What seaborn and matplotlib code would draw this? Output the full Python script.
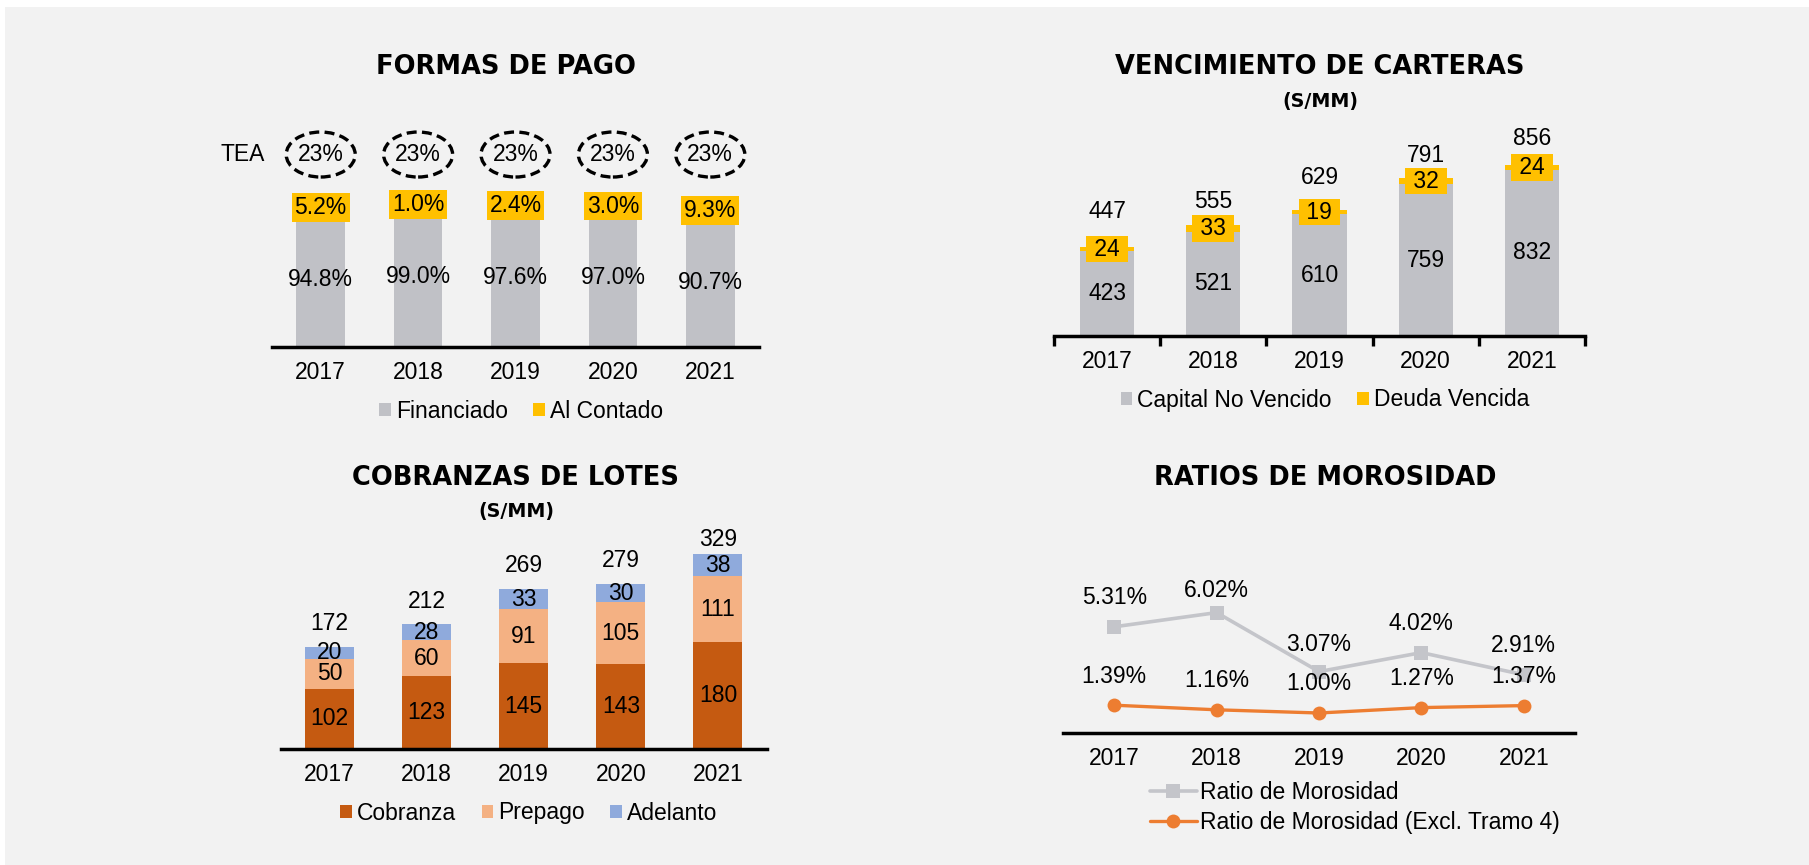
import numpy as np
import matplotlib
matplotlib.use('Agg')
import matplotlib.pyplot as plt
import matplotlib.patches as mpatches
import matplotlib.transforms as mtransforms
import seaborn as sns

sns.set_theme(style='white')
plt.rcParams['font.family'] = ['Liberation Sans', 'DejaVu Sans']
plt.rcParams['text.color'] = 'black'

years = ['2017', '2018', '2019', '2020', '2021']

# Formas de pago (%)
financiado = [94.8, 99.0, 97.6, 97.0, 90.7]
contado = [5.2, 1.0, 2.4, 3.0, 9.3]
tea = [23, 23, 23, 23, 23]

# Vencimiento de carteras (S/MM)
capital_no_vencido = [423, 521, 610, 759, 832]
deuda_vencida = [24, 33, 19, 32, 24]
total_cartera = [447, 555, 629, 791, 856]

# Cobranzas de lotes (S/MM)
cobranza = [102, 123, 145, 143, 180]
prepago = [50, 60, 91, 105, 111]
adelanto = [20, 28, 33, 30, 38]
total_cobranzas = [172, 212, 269, 279, 329]

# Ratios de morosidad (%)
ratio_mora = [5.31, 6.02, 3.07, 4.02, 2.91]
ratio_mora_excl = [1.39, 1.16, 1.00, 1.27, 1.37]

# label offsets above the bar tops (pixels), as placed in the original
cartera_offsets = [35, 24, 33, 22, 26]
cobranza_offsets = [24, 22, 24, 23, 14]
mora_offsets = [29, 22, 27, 29, 29]

# colours
BG = '#f2f2f2'
GRAY = '#c0c1c6'
YELLOW = '#ffc000'
COBRANZA = '#c55a11'
PREPAGO = '#f4b183'
ADELANTO = '#8faadc'
LINE_GRAY = '#c4c5ca'
ORANGE = '#ed7d31'

FS = 16.5
TITLE_FONT = ['DejaVu Sans']

W, H = 1809, 865
fig = plt.figure(figsize=(W / 100, H / 100), dpi=100)
fig.patch.set_facecolor('white')
fig.add_artist(mpatches.Rectangle((5 / W, 0), 1, (H - 7) / H, transform=fig.transFigure,
                                  facecolor=BG, edgecolor='none', zorder=-10))


def px_axes(left, right, bottom, top):
    ax = fig.add_axes([left / W, 1 - bottom / H, (right - left) / W, (bottom - top) / H])
    ax.set_facecolor('none')
    return ax


def style_axis(ax):
    for s in ['top', 'left', 'right']:
        ax.spines[s].set_visible(False)
    ax.spines['bottom'].set_color('black')
    ax.spines['bottom'].set_linewidth(2.5)
    ax.set_yticks([])
    ax.set_xlim(-0.5, 4.5)
    ax.set_xticks(range(len(years)))
    ax.set_xticklabels(years)
    ax.tick_params(axis='x', which='major', length=0, pad=10, labelsize=FS, labelcolor='black')
    ax.set_xlabel('')
    ax.set_ylabel('')


def title(x, y, txt, size=18.5):
    fig.text(x / W, 1 - y / H, txt, ha='center', va='center', fontsize=size,
             fontweight='bold', family=TITLE_FONT, color='black')


def bar_legend(ax, cx, cy, ncol):
    h, l = ax.get_legend_handles_labels()
    ax.legend(h, l, loc='center', bbox_to_anchor=(cx / W, 1 - cy / H), bbox_transform=fig.transFigure,
              ncol=ncol, frameon=False, fontsize=FS, handlelength=0.52, handleheight=0.5,
              handletextpad=0.22, columnspacing=1.1, borderpad=0, borderaxespad=0)


# ---------------- FORMAS DE PAGO ----------------
ax1 = px_axes(272, 759, 347, 130)
sns.barplot(x=years, y=financiado, color=GRAY, saturation=1, width=0.5, errorbar=None,
            linewidth=0, ax=ax1, label='Financiado')
sns.barplot(x=years, y=contado, bottom=financiado, color=YELLOW, saturation=1, width=0.5,
            errorbar=None, linewidth=0, ax=ax1, label='Al Contado')
style_axis(ax1)
ax1.set_ylim(0, (347 - 130) / 1.43)
tea_y = 134.6
for i in range(len(years)):
    ax1.text(i, financiado[i] / 2, f'{financiado[i]:.1f}%', ha='center', va='center', fontsize=FS)
    ax1.text(i, financiado[i] + contado[i] / 2, f'{contado[i]:.1f}%', ha='center', va='center',
             fontsize=FS, bbox=dict(boxstyle='square,pad=0.12', fc=YELLOW, ec='none'))
    ell = mpatches.Ellipse((0, 0), 69, 45, fill=False, ec='black', lw=2.4, ls=(0, (3, 1.6)),
                           transform=mtransforms.ScaledTranslation(i, tea_y, ax1.transData),
                           clip_on=False)
    ax1.add_artist(ell)
    ax1.text(i, tea_y, f'{tea[i]}%', ha='center', va='center', fontsize=FS)
ax1.text(-0.57, tea_y, 'TEA', ha='right', va='center', fontsize=FS)
bar_legend(ax1, 521, 411.5, 2)
title(506, 67, 'FORMAS DE PAGO')

# ---------------- VENCIMIENTO DE CARTERAS ----------------
ax2 = px_axes(1054, 1585, 336, 130)
sns.barplot(x=years, y=capital_no_vencido, color=GRAY, saturation=1, width=0.51, errorbar=None,
            linewidth=0, ax=ax2, label='Capital No Vencido')
sns.barplot(x=years, y=deuda_vencida, bottom=capital_no_vencido, color=YELLOW, saturation=1,
            width=0.51, errorbar=None, linewidth=0, ax=ax2, label='Deuda Vencida')
style_axis(ax2)
ax2.set_ylim(0, (336 - 130) / 0.2)
ax2.set_xticks(np.arange(-0.5, 5), minor=True)
ax2.tick_params(axis='x', which='minor', bottom=True, length=7, width=2.4, color='black',
                direction='out')
for i in range(len(years)):
    ax2.text(i, capital_no_vencido[i] / 2, f'{capital_no_vencido[i]}', ha='center', va='center',
             fontsize=FS)
    ax2.text(i, capital_no_vencido[i] + deuda_vencida[i] / 2, f' {deuda_vencida[i]} ', ha='center',
             va='center', fontsize=FS, bbox=dict(boxstyle='square,pad=0.08', fc=YELLOW, ec='none'))
    ax2.annotate(f'{total_cartera[i]}', (i, total_cartera[i]), xytext=(0, cartera_offsets[i]),
                 textcoords='offset pixels', ha='center', va='center', fontsize=FS)
bar_legend(ax2, 1325, 400, 2)
title(1320, 67, 'VENCIMIENTO DE CARTERAS')
title(1320, 101, '(S/MM)', size=13.8)

# ---------------- COBRANZAS DE LOTES ----------------
ax3 = px_axes(281, 766.5, 749, 530)
base2 = [a + b for a, b in zip(cobranza, prepago)]
sns.barplot(x=years, y=cobranza, color=COBRANZA, saturation=1, width=0.505, errorbar=None,
            linewidth=0, ax=ax3, label='Cobranza')
sns.barplot(x=years, y=prepago, bottom=cobranza, color=PREPAGO, saturation=1, width=0.505,
            errorbar=None, linewidth=0, ax=ax3, label='Prepago')
sns.barplot(x=years, y=adelanto, bottom=base2, color=ADELANTO, saturation=1, width=0.505,
            errorbar=None, linewidth=0, ax=ax3, label='Adelanto')
style_axis(ax3)
ax3.set_ylim(0, (749 - 530) / 0.593)
for i in range(len(years)):
    ax3.text(i, cobranza[i] / 2, f'{cobranza[i]}', ha='center', va='center', fontsize=FS)
    ax3.text(i, cobranza[i] + prepago[i] / 2, f'{prepago[i]}', ha='center', va='center', fontsize=FS)
    ax3.text(i, base2[i] + adelanto[i] / 2, f'{adelanto[i]}', ha='center', va='center', fontsize=FS)
    ax3.annotate(f'{total_cobranzas[i]}', (i, total_cobranzas[i]), xytext=(0, cobranza_offsets[i]),
                 textcoords='offset pixels', ha='center', va='center', fontsize=FS)
bar_legend(ax3, 529, 813, 3)
title(516, 478, 'COBRANZAS DE LOTES')
title(516, 512, '(S/MM)', size=13.8)

# ---------------- RATIOS DE MOROSIDAD ----------------
ax4 = px_axes(1063, 1575, 733, 560)
idx = np.arange(len(years))
sns.lineplot(x=idx, y=ratio_mora, marker='s', markersize=9.5, markeredgewidth=0, color=LINE_GRAY,
             linewidth=2.6, ax=ax4, label='Ratio de Morosidad', clip_on=False)
sns.lineplot(x=idx, y=ratio_mora_excl, marker='o', markersize=10, markeredgewidth=0, color=ORANGE,
             linewidth=2.4, ax=ax4, label='Ratio de Morosidad (Excl. Tramo 4)', clip_on=False)
style_axis(ax4)
ax4.set_ylim(0, (733 - 560) / 20)
for i in range(len(years)):
    ax4.annotate(f'{ratio_mora[i]:.2f}%', (i, ratio_mora[i]), xytext=(0, mora_offsets[i]),
                 textcoords='offset pixels', ha='center', va='center', fontsize=FS)
    ax4.annotate(f'{ratio_mora_excl[i]:.2f}%', (i, ratio_mora_excl[i]), xytext=(0, 29),
                 textcoords='offset pixels', ha='center', va='center', fontsize=FS)
h, l = ax4.get_legend_handles_labels()
ax4.legend(h, l, loc='center left', bbox_to_anchor=(1150 / W, 1 - 807.5 / H),
           bbox_transform=fig.transFigure, frameon=False, fontsize=FS, handlelength=2.05,
           handletextpad=0.13, labelspacing=0.27, borderpad=0, borderaxespad=0)
title(1325, 478, 'RATIOS DE MOROSIDAD')

fig.savefig('out.png', dpi=100, facecolor='white')
